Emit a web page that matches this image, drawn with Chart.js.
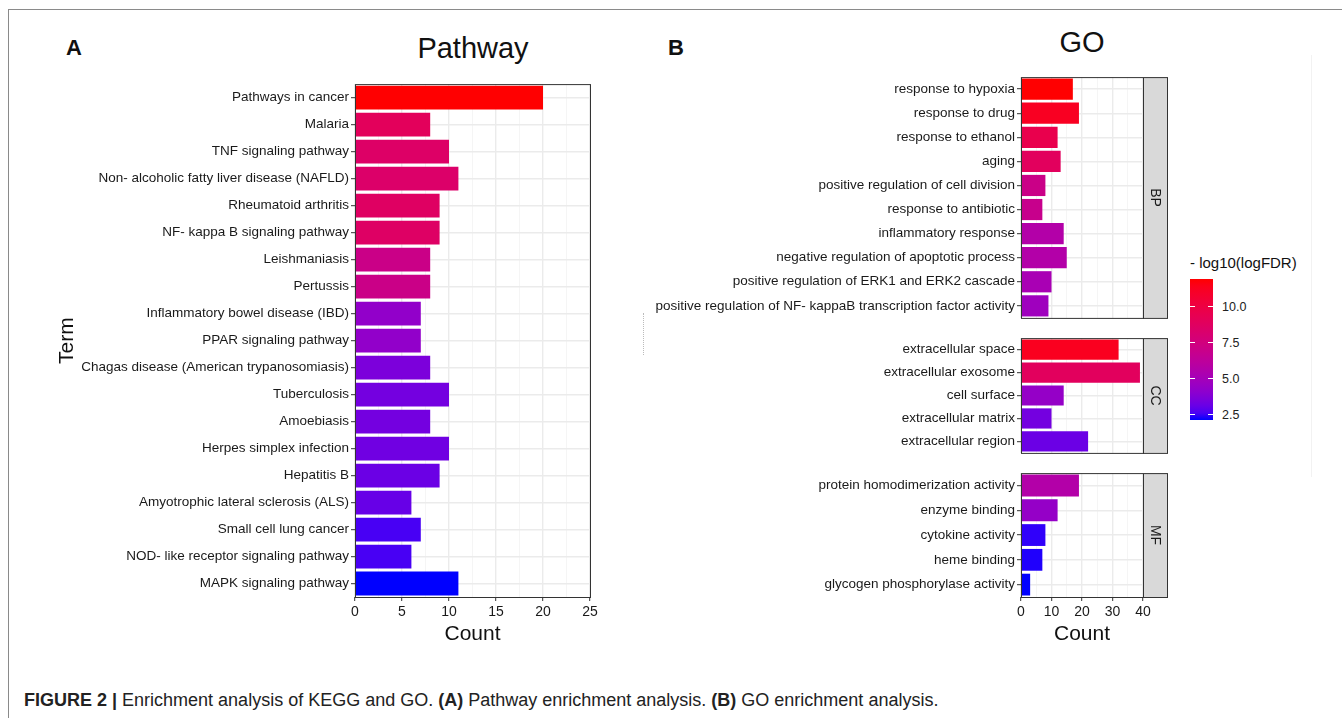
<!DOCTYPE html>
<html>
<head>
<meta charset="utf-8">
<script src="https://cdn.jsdelivr.net/npm/chart.js@4.4.0/dist/chart.umd.min.js"></script>
<style>
body { margin: 0; background: #fff; font-family: "Liberation Sans", Arial, sans-serif; }
#fig { position: relative; width: 1342px; height: 718px; overflow: hidden; }
canvas { position: absolute; }
.txt { position: absolute; white-space: nowrap; color: #111; }
</style>
</head>
<body>
<div id="fig">
    <div style="position:absolute;left:8px;top:9px;width:1340px;height:720px;border-top:1.5px solid #8a8a8a;border-left:1.5px solid #8a8a8a;"></div>
    <div style="position:absolute;left:1311px;top:55px;height:422px;border-left:1px solid #f2f2f2;"></div>
    <div style="position:absolute;left:643px;top:313px;height:42px;border-left:1px dotted #bbb;"></div>

    <div class="txt" style="left:66px;top:35px;font-size:22px;line-height:26px;font-weight:bold;">A</div>
    <div class="txt" style="left:373px;top:31px;width:200px;text-align:center;font-size:29px;line-height:34px;">Pathway</div>
    <div class="txt" style="left:668px;top:35px;font-size:22px;line-height:26px;font-weight:bold;">B</div>
    <div class="txt" style="left:982px;top:25px;width:200px;text-align:center;font-size:29px;line-height:34px;">GO</div>

    <canvas id="pathwayChart" width="565" height="573" style="left:40px;top:74px;"></canvas>
    <canvas id="bpChart" width="548" height="261" style="left:620px;top:67px;"></canvas>
    <canvas id="ccChart" width="548" height="135" style="left:620px;top:328px;"></canvas>
    <canvas id="mfChart" width="548" height="184" style="left:620px;top:463px;"></canvas>

    <div class="txt" style="left:1190px;top:254px;font-size:15px;line-height:18px;">- log10(logFDR)</div>
    <div id="colorBar" style="position:absolute;left:1190px;top:279px;width:23px;height:141px;"></div>
    <div id="colorTicks"></div>

    <div class="txt" style="left:24px;top:690px;font-size:18px;line-height:20px;color:#222;"><b>FIGURE 2 |</b> Enrichment analysis of KEGG and GO. <b>(A)</b> Pathway enrichment analysis. <b>(B)</b> GO enrichment analysis.</div>
</div>

<script>
// KEGG pathways (panel A), top to bottom
const pathwayTerms = [
    'Pathways in cancer', 'Malaria', 'TNF signaling pathway',
    'Non- alcoholic fatty liver disease (NAFLD)', 'Rheumatoid arthritis',
    'NF- kappa B signaling pathway', 'Leishmaniasis', 'Pertussis',
    'Inflammatory bowel disease (IBD)', 'PPAR signaling pathway',
    'Chagas disease (American trypanosomiasis)', 'Tuberculosis', 'Amoebiasis',
    'Herpes simplex infection', 'Hepatitis B', 'Amyotrophic lateral sclerosis (ALS)',
    'Small cell lung cancer', 'NOD- like receptor signaling pathway', 'MAPK signaling pathway'
];
const pathwayCounts = [20, 8, 10, 11, 9, 9, 8, 8, 7, 7, 8, 10, 8, 10, 9, 6, 7, 6, 11];
const pathwayScores = [11.9, 9.0, 8.5, 8.4, 8.7, 8.6, 7.1, 7.1, 4.3, 4.3, 3.6, 3.4, 3.4, 3.3, 3.2, 3.1, 2.6, 2.6, 2.15];

// GO terms (panel B)
const bpTerms = [
    'response to hypoxia', 'response to drug', 'response to ethanol', 'aging',
    'positive regulation of cell division', 'response to antibiotic',
    'inflammatory response', 'negative regulation of apoptotic process',
    'positive regulation of ERK1 and ERK2 cascade',
    'positive regulation of NF- kappaB transcription factor activity'
];
const bpCounts = [17, 19, 12, 13, 8, 7, 14, 15, 10, 9];
const bpScores = [11.9, 11.2, 9.6, 8.9, 7.1, 6.9, 5.7, 5.7, 5.2, 4.8];

const ccTerms = ['extracellular space', 'extracellular exosome', 'cell surface', 'extracellular matrix', 'extracellular region'];
const ccCounts = [32, 39, 14, 10, 22];
const ccScores = [11.3, 8.9, 4.4, 3.4, 3.2];

const mfTerms = ['protein homodimerization activity', 'enzyme binding', 'cytokine activity', 'heme binding', 'glycogen phosphorylase activity'];
const mfCounts = [19, 12, 8, 7, 3];
const mfScores = [5.7, 4.4, 2.35, 2.25, 2.15];

// colour scale
const scoreMin = 2.15;
const scoreMax = 11.92;
const legendTicks = [2.5, 5.0, 7.5, 10.0];

const FONT = '"Liberation Sans", Arial, sans-serif';
const BLUE_LAB = [32.30, 79.19, -107.86];
const RED_LAB = [53.24, 80.09, 67.20];

function labToRgb(L, A, B) {
    const fy = (L + 16) / 116, fx = fy + A / 500, fz = fy - B / 200;
    const finv = t => t > 6 / 29 ? t * t * t : 3 * (6 / 29) * (6 / 29) * (t - 4 / 29);
    const X = 0.95047 * finv(fx), Y = finv(fy), Z = 1.08883 * finv(fz);
    const lin = [
        3.2406 * X - 1.5372 * Y - 0.4986 * Z,
        -0.9689 * X + 1.8758 * Y + 0.0415 * Z,
        0.0557 * X - 0.2040 * Y + 1.0570 * Z
    ];
    const gam = c => {
        c = Math.min(1, Math.max(0, c));
        return c <= 0.0031308 ? 12.92 * c : 1.055 * Math.pow(c, 1 / 2.4) - 0.055;
    };
    return 'rgb(' + lin.map(c => Math.round(gam(c) * 255)).join(',') + ')';
}

function scoreColor(v) {
    const t = Math.min(1, Math.max(0, (v - scoreMin) / (scoreMax - scoreMin)));
    return labToRgb(
        BLUE_LAB[0] + (RED_LAB[0] - BLUE_LAB[0]) * t,
        BLUE_LAB[1] + (RED_LAB[1] - BLUE_LAB[1]) * t,
        BLUE_LAB[2] + (RED_LAB[2] - BLUE_LAB[2]) * t
    );
}

// panel border + facet strip
const panelPlugin = {
    id: 'panel',
    afterDatasetsDraw(chart, args, opts) {
        const { ctx, chartArea: a } = chart;
        ctx.save();
        ctx.strokeStyle = '#333';
        ctx.lineWidth = 1;
        ctx.strokeRect(a.left + 0.5, a.top + 0.5, a.right - a.left, a.bottom - a.top);
        if (opts.strip) {
            const w = 24;
            ctx.fillStyle = '#d9d9d9';
            ctx.fillRect(a.right, a.top, w, a.bottom - a.top);
            ctx.strokeRect(a.right + 0.5, a.top + 0.5, w, a.bottom - a.top);
            ctx.translate(a.right + w / 2, (a.top + a.bottom) / 2);
            ctx.rotate(Math.PI / 2);
            ctx.fillStyle = '#1a1a1a';
            ctx.font = '14px ' + FONT;
            ctx.textAlign = 'center';
            ctx.textBaseline = 'middle';
            ctx.fillText(opts.strip, 0, 0);
        }
        ctx.restore();
    }
};

function makeChart(id, terms, counts, scores, cfg) {
    const major = cfg.major;
    return new Chart(document.getElementById(id), {
        type: 'bar',
        data: {
            labels: terms,
            datasets: [{
                data: counts,
                backgroundColor: scores.map(scoreColor),
                borderWidth: 0,
                barPercentage: 0.88,
                categoryPercentage: 1
            }]
        },
        options: {
            indexAxis: 'y',
            responsive: false,
            animation: false,
            events: [],
            layout: { padding: { top: 10, right: cfg.padRight, bottom: 0, left: 0 } },
            plugins: {
                legend: { display: false },
                tooltip: { enabled: false },
                panel: { strip: cfg.strip }
            },
            scales: {
                x: {
                    min: 0,
                    max: cfg.max,
                    ticks: {
                        display: cfg.showX,
                        stepSize: major / 2,
                        autoSkip: false,
                        maxRotation: 0,
                        padding: 3,
                        color: '#1a1a1a',
                        font: { family: FONT, size: 14 },
                        callback: v => v % major === 0 ? v : ''
                    },
                    grid: {
                        drawTicks: cfg.showX,
                        tickLength: 4,
                        tickWidth: 1,
                        tickColor: c => c.tick && c.tick.value % major === 0 ? '#333' : 'rgba(0,0,0,0)',
                        color: c => c.tick && c.tick.value % major === 0 ? '#ebebeb' : '#f3f3f3',
                        lineWidth: c => c.tick && c.tick.value % major === 0 ? 1.4 : 0.8
                    },
                    border: { display: false },
                    title: {
                        display: cfg.showX,
                        text: 'Count',
                        color: '#111',
                        font: { family: FONT, size: 21 },
                        padding: { top: 0, bottom: 0 }
                    },
                    afterFit: s => { s.height = cfg.showX ? 50 : 0; }
                },
                y: {
                    ticks: {
                        autoSkip: false,
                        padding: 2,
                        color: '#1a1a1a',
                        font: { family: FONT, size: 13.5 }
                    },
                    grid: {
                        offset: false,
                        tickLength: 4,
                        tickWidth: 1,
                        tickColor: '#333',
                        color: '#ebebeb',
                        lineWidth: 1.4
                    },
                    border: { display: false },
                    title: {
                        display: !!cfg.yTitle,
                        text: cfg.yTitle || '',
                        color: '#111',
                        font: { family: FONT, size: 21 },
                        padding: { top: 15, bottom: 0 }
                    },
                    afterFit: s => { s.width = cfg.yWidth; }
                }
            }
        },
        plugins: [panelPlugin]
    });
}

makeChart('pathwayChart', pathwayTerms, pathwayCounts, pathwayScores,
    { max: 25, major: 5, showX: true, yWidth: 315, padRight: 15, yTitle: 'Term' });
makeChart('bpChart', bpTerms, bpCounts, bpScores,
    { max: 40, major: 10, showX: false, yWidth: 401, padRight: 25, strip: 'BP' });
makeChart('ccChart', ccTerms, ccCounts, ccScores,
    { max: 40, major: 10, showX: false, yWidth: 401, padRight: 25, strip: 'CC' });
makeChart('mfChart', mfTerms, mfCounts, mfScores,
    { max: 40, major: 10, showX: true, yWidth: 401, padRight: 25, strip: 'MF' });

// colour bar legend
const bar = document.getElementById('colorBar');
const stops = [];
for (let i = 0; i <= 20; i++) {
    const v = scoreMax - (scoreMax - scoreMin) * i / 20;
    stops.push(scoreColor(v) + ' ' + (i * 5) + '%');
}
bar.style.background = 'linear-gradient(to bottom, ' + stops.join(', ') + ')';

const tickBox = document.getElementById('colorTicks');
const barTop = 279, barHeight = 141;
legendTicks.forEach(v => {
    const y = barTop + (scoreMax - v) / (scoreMax - scoreMin) * barHeight;
    tickBox.insertAdjacentHTML('beforeend',
        `<div style="position:absolute;left:1190px;top:${y - 0.5}px;width:5px;height:1px;background:#fff;"></div>` +
        `<div style="position:absolute;left:1208px;top:${y - 0.5}px;width:5px;height:1px;background:#fff;"></div>` +
        `<div class="txt" style="left:1222px;top:${y - 8}px;font-size:12.5px;line-height:16px;color:#222;">${v.toFixed(1)}</div>`);
});
</script>
</body>
</html>
